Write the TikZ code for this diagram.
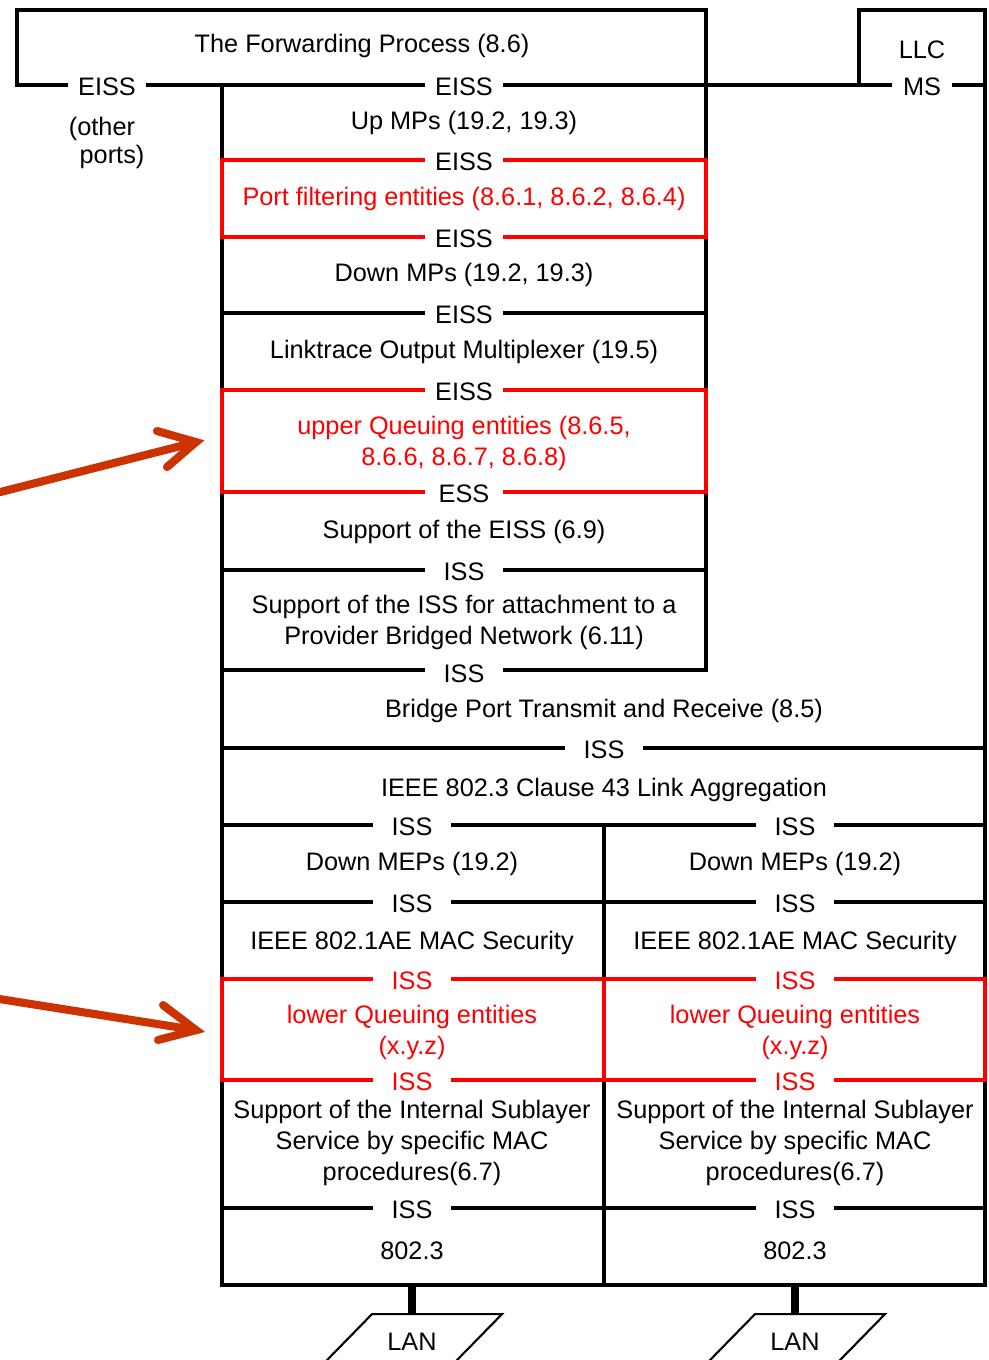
\documentclass[tikz,border=0pt]{standalone}
\usepackage{fontspec}
\setmainfont{Liberation Sans}
\usepackage{xcolor}
\usetikzlibrary{calc}
\usetikzlibrary{positioning}

\definecolor{arrowred}{RGB}{204,51,0}

\begin{document}
\begin{tikzpicture}[x=0.02cm,y=-0.02cm,
  every node/.style={font=\fontsize{14.4}{17.6}\selectfont,align=center,inner sep=1pt,yshift=-1.2pt},
  wall/.style={line width=2.3pt,line cap=rect},
  redwall/.style={line width=2.3pt,draw=red},
  sap/.style={fill=white,minimum width=44pt,inner ysep=1pt},
  redtext/.style={text=red},
  pointer/.style={line width=4.6pt,draw=arrowred,line cap=round,line join=miter},
  lan/.style={line width=1.2pt}]
\useasboundingbox (0,0) rectangle (988,1360);

% outline of the layers
\draw[wall] (17,85) -- (17,10) -- (706,10) -- (706,670);
\draw[wall] (859,85) -- (859,10) -- (985,10) -- (985,1285);
\draw[wall] (222,85) -- (222,1285) -- (985,1285);
\draw[line width=1.8pt] (604,825) -- (604,1285);
\draw[wall] (17,85) -- (985,85);
\foreach \y in {313,570,670}
{
	\draw[wall] (222,\y) -- (706,\y);
}
\foreach \y in {748,825,902,1208}
{
	\draw[wall] (222,\y) -- (985,\y);
}
% queuing and filtering in red
\draw[redwall] (222,160) rectangle (706,237);
\draw[redwall] (222,390) rectangle (706,492);
\draw[redwall] (222,979) rectangle (985,1080);
\draw[redwall] (604,979) -- (604,1080);

% relay part
\node (fwd) at (362,44) {The Forwarding Process (8.6)};
\node[sap] (eissOther) at (107,85) {EISS};
\node (other) at (102,127) {(other};
\node (ports) at (112,155) {ports)};
\node (llc) at (922,48) {LLC};
\node[sap,minimum width=34pt] (ms) at (922,85) {MS};
\node[sap] (eissA) at (464,85) {EISS};
\node (upMP) at (464,121) {Up MPs (19.2, 19.3)};
\node[sap] (eissB) at (464,160) {EISS};
\node[redtext] (filter) at (464,197) {Port filtering entities (8.6.1, 8.6.2, 8.6.4)};
\node[sap] (eissC) at (464,237) {EISS};
\node (downMP) at (464,273) {Down MPs (19.2, 19.3)};
\node[sap] (eissD) at (464,313) {EISS};
\node (linktrace) at (464,350) {Linktrace Output Multiplexer (19.5)};
\node[sap] (eissE) at (464,390) {EISS};
\node[redtext] (upperQ) at (464,441) {upper Queuing entities (8.6.5,\\8.6.6, 8.6.7, 8.6.8)};
\node[sap] (ess) at (464,492) {ESS};
\node (eissSup) at (464,530) {Support of the EISS (6.9)};
\node[sap] (issA) at (464,570) {ISS};
\node (pbn) at (464,620) {Support of the ISS for attachment to a\\Provider Bridged Network (6.11)};
\node[sap] (issB) at (464,672) {ISS};
\node (bptr) at (604,709) {Bridge Port Transmit and Receive (8.5)};
\node[sap] (issC) at (604,748) {ISS};
\node (lag) at (604,788) {IEEE 802.3 Clause 43 Link Aggregation};

% the two aggregated ports
\foreach \x/\n in {412/A,795/B}
{
	\node[sap] (issD\n) at (\x,825) {ISS};
	\node (downMEP\n) at (\x,862) {Down MEPs (19.2)};
	\node[sap] (issE\n) at (\x,902) {ISS};
	\node (macsec\n) at (\x,941) {IEEE 802.1AE MAC Security};
	\node[sap,text=red] (issF\n) at (\x,979) {ISS};
	\node[redtext] (lowerQ\n) at (\x,1030) {lower Queuing entities\\(x.y.z)};
	\node[sap,text=red] (issG\n) at (\x,1080) {ISS};
	\node (issSup\n) at (\x,1141) {Support of the Internal Sublayer\\Service by specific MAC\\procedures(6.7)};
	\node[sap] (issH\n) at (\x,1208) {ISS};
	\node (mac\n) at (\x,1249) {802.3};
	\coordinate (port\n) at (\x,1285);
	\coordinate (lan\n) at (\x,1312);
	\draw[line width=4.5pt] (port\n) -- (lan\n);
	\draw[lan] ($(lan\n)+(-87,48)$) -- ($(lan\n)+(-40,0)$) -- ($(lan\n)+(90,0)$) -- ($(lan\n)+(43,48)$);
	\node (lanText\n) at (\x,1340) {LAN};
}

% pointers to the queuing entities
\coordinate (upperTail) at (0,490);
\coordinate (upperTip) at (196,440);
\draw[pointer] (upperTail) -- (upperTip);
\draw[pointer] (157,431) -- (upperTip) -- (167,467);
\coordinate (lowerTail) at (0,997);
\coordinate (lowerTip) at (196,1028);
\draw[pointer] (lowerTail) -- (lowerTip);
\draw[pointer] (163,1005) -- (lowerTip) -- (158,1040);
\end{tikzpicture}
\end{document}
